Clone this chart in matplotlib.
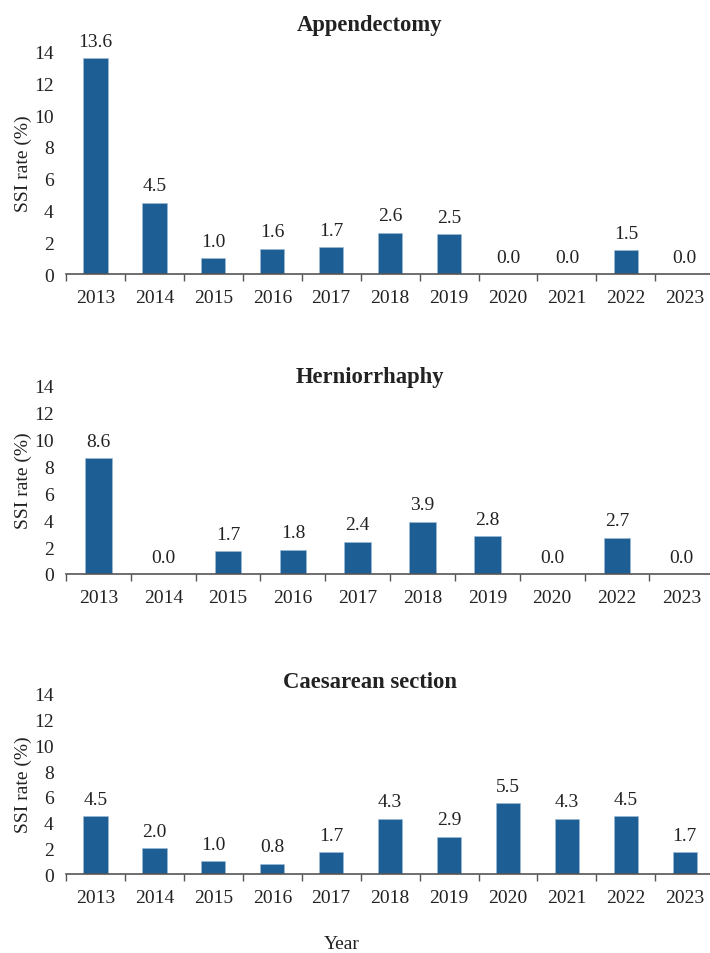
import matplotlib
matplotlib.use('Agg')
import matplotlib.pyplot as plt
import numpy as np

plt.rcParams['font.family'] = 'Liberation Serif'

years_all = ['2013', '2014', '2015', '2016', '2017', '2018', '2019', '2020', '2021', '2022', '2023']
years_hern = ['2013', '2014', '2015', '2016', '2017', '2018', '2019', '2020', '2022', '2023']

appendectomy = [13.6, 4.5, 1.0, 1.6, 1.7, 2.6, 2.5, 0.0, 0.0, 1.5, 0.0]
herniorrhaphy = [8.6, 0.0, 1.7, 1.8, 2.4, 3.9, 2.8, 0.0, 2.7, 0.0]
caesarean = [4.5, 2.0, 1.0, 0.8, 1.7, 4.3, 2.9, 5.5, 4.3, 4.5, 1.7]

panels = [
    ('Appendectomy', years_all, appendectomy, [0.093, 0.7117, 0.913, 0.2331], 25),
    ('Herniorrhaphy', years_hern, herniorrhaphy, [0.093, 0.3973, 0.913, 0.1971], 378),
    ('Caesarean section', years_all, caesarean, [0.093, 0.0828, 0.913, 0.1887], 683),
]

bar_color = '#1d5e94'
axis_color = '#555555'
text_color = '#222222'
fs = 14

W, H = 710, 954
fig = plt.figure(figsize=(W / 100, H / 100), dpi=100)

for title, years, vals, rect, title_y in panels:
    ax = fig.add_axes(rect)
    x = np.arange(len(years))
    ax.bar(x, vals, width=0.41, color=bar_color, edgecolor='#9dbbd6', linewidth=0.4)
    for xi, v in zip(x, vals):
        ax.annotate(f'{v:.1f}', (xi, v), xytext=(0, 6), textcoords='offset points',
                    ha='center', va='bottom', fontsize=fs, color=text_color,
                    annotation_clip=False)
    ax.set_xlim(-0.5, len(years) - 0.5)
    ax.set_ylim(0, 14)
    ax.set_yticks(range(0, 15, 2))
    ax.set_xticks(x)
    ax.set_xticklabels(years)
    # small tick marks sit between the categories
    ax.set_xticks(np.arange(len(years) + 1) - 0.5, minor=True)
    ax.tick_params(axis='x', which='major', length=0, pad=11, labelsize=fs, labelcolor=text_color)
    ax.tick_params(axis='x', which='minor', length=5, width=1, color=axis_color, direction='out')
    ax.tick_params(axis='y', length=0, pad=9, labelsize=fs, labelcolor=text_color)
    for s in ['top', 'right', 'left']:
        ax.spines[s].set_visible(False)
    ax.spines['bottom'].set_color(axis_color)
    ax.spines['bottom'].set_linewidth(1.2)
    ax.set_ylabel('SSI rate (%)', fontsize=fs, color=text_color, labelpad=1.5)
    fig.text(370 / W, 1 - title_y / H, title, ha='center', va='center',
             fontsize=16.3, fontweight='bold', color=text_color)

fig.text(342 / W, 1 - 945 / H, 'Year', ha='center', va='center', fontsize=fs, color=text_color)

fig.savefig('out.png', dpi=100)
